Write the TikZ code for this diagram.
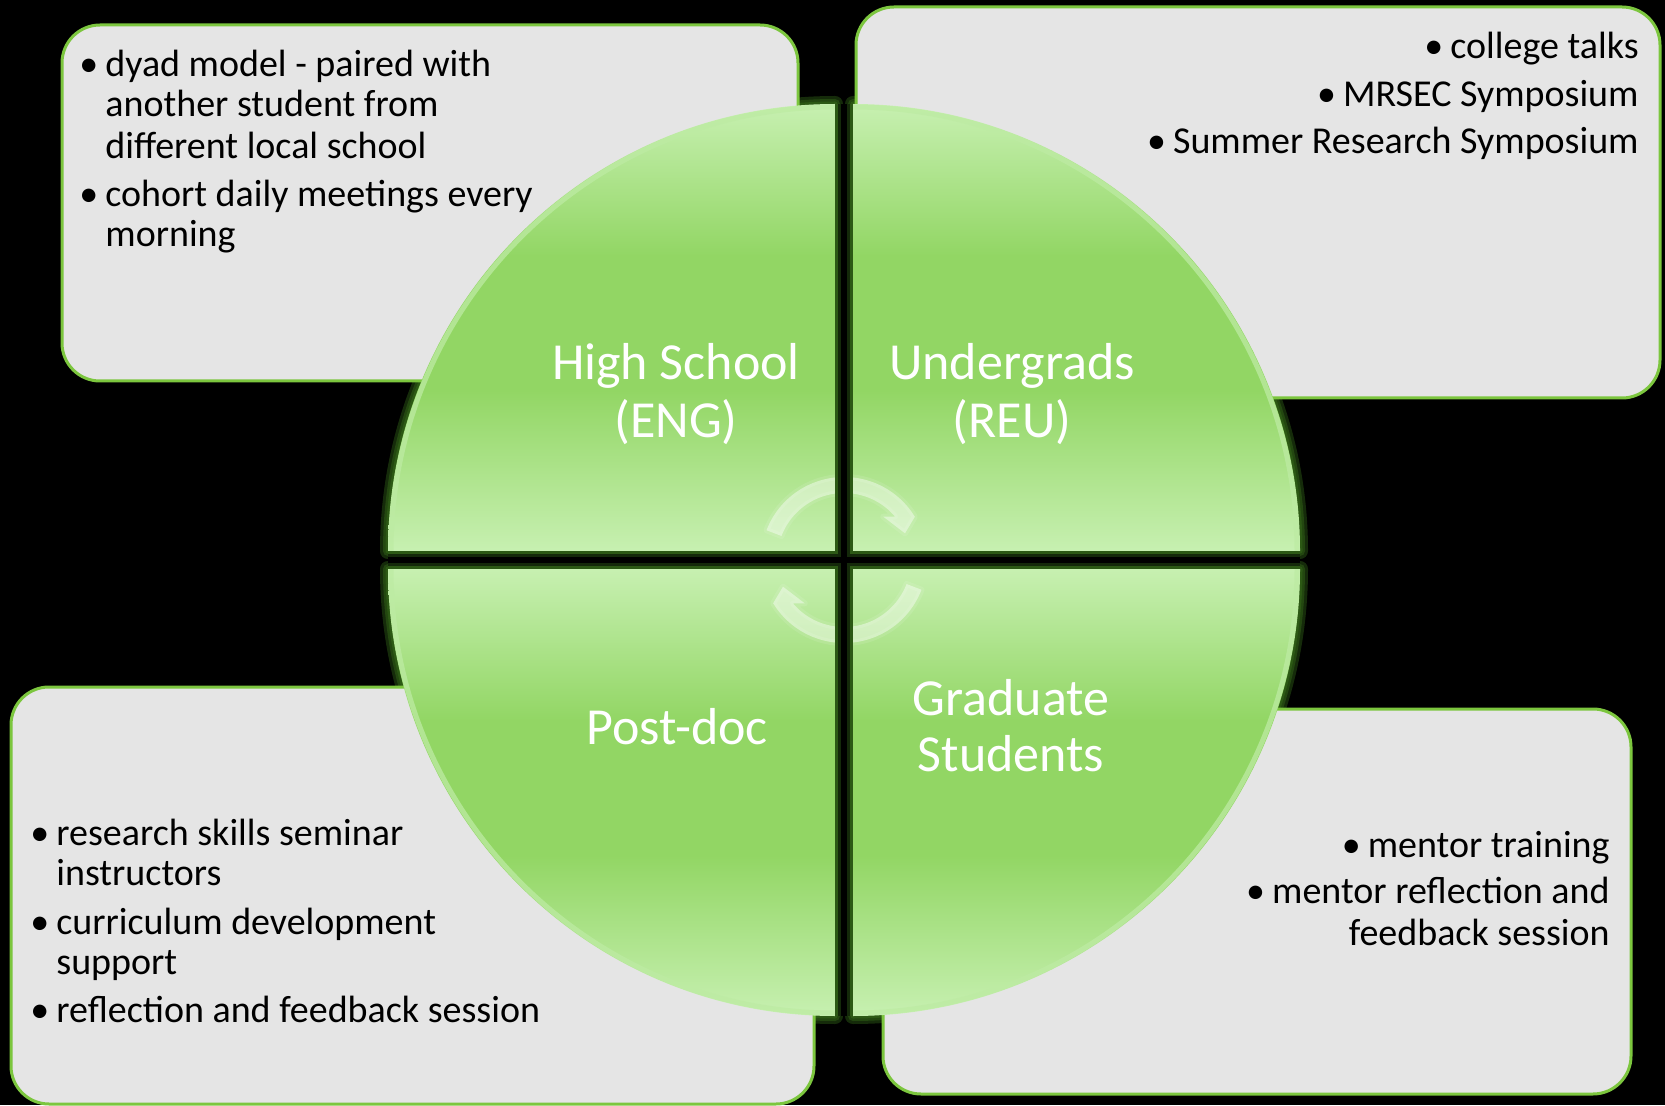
\documentclass[tikz,border=0pt]{standalone}
\usepackage{fontspec}
\setmainfont{Carlito}

\definecolor{boxfill}{HTML}{E5E5E5}
\definecolor{boxline}{HTML}{7CC63E}
\definecolor{qlight}{HTML}{C7F0B1}
\definecolor{qgreen}{HTML}{92D664}
\definecolor{glowgreen}{HTML}{3F7D1E}
\definecolor{gapgreen}{HTML}{2C5915}
\definecolor{gapdark}{HTML}{14290A}
\definecolor{rimgreen}{HTML}{BDEBA3}

% light at both ends, saturated green in the middle
\pgfdeclareverticalshading{quadfade}{100bp}{color(0bp)=(qlight); color(25bp)=(qlight); color(43bp)=(qgreen); color(58bp)=(qgreen); color(75bp)=(qlight); color(100bp)=(qlight)}

\newcommand\blt{\makebox[13pt][l]{\textbullet}}

\begin{document}
\begin{tikzpicture}[x=0.5pt, y=0.5pt,
  infobox/.style={fill=boxfill, draw=boxline, line width=1.5pt, rounded corners=19pt},
  bodytext/.style={inner sep=0pt, font=\fontsize{19pt}{20.5pt}\selectfont, text=black},
  quadlabel/.style={inner sep=0pt, font=\fontsize{26pt}{27.5pt}\selectfont, text=white},
  quadfill/.style={shading=quadfade},
  cyclearrow/.style={fill=white, opacity=0.42}]

\useasboundingbox (0,0) rectangle (1665,1105);
\fill[black] (0,0) rectangle (1665,1105);

% dark glow around the four quarter discs (visible on the black ground only)
\foreach \cx/\cy/\rot in {835/554/0, 853/554/-90, 835/536/90, 853/536/180} {
  \begin{scope}[shift={(\cx,\cy)}, rotate=\rot]
    \foreach \w in {8pt,5pt,2.5pt}
      \draw[glowgreen, opacity=0.35, line width=\w, line join=round]
        (0,0) -- (0,447) arc[start angle=90, end angle=180, radius=447] -- cycle;
  \end{scope}
}

% text boxes behind the circle
\draw[infobox] (62,724) rectangle (798,1080);
\draw[infobox] (856,707) rectangle (1660,1098);
\draw[infobox] (11,1) rectangle (814,418);
\draw[infobox] (883,11) rectangle (1631,396);

% the four quarter discs
\shade[quadfill] (835,554) -- (835,1001) arc[start angle=90, end angle=180, radius=447] -- cycle;
\shade[quadfill] (853,554) -- (1300,554) arc[start angle=0, end angle=90, radius=447] -- cycle;
\shade[quadfill] (835,536) -- (388,536) arc[start angle=180, end angle=270, radius=447] -- cycle;
\shade[quadfill] (853,536) -- (853,89) arc[start angle=270, end angle=360, radius=447] -- cycle;

% light rim along the inside of the curved edges
\foreach \cx/\cy/\rot in {835/554/0, 853/554/-90, 835/536/90, 853/536/180} {
  \begin{scope}[shift={(\cx,\cy)}, rotate=\rot]
    \draw[rimgreen, opacity=0.75, line width=2.5pt] (0,444) arc[start angle=90, end angle=180, radius=444];
  \end{scope}
}

% circular arrows in the middle
\begin{scope}[shift={(844,545)}]
  \foreach \rot in {0,180} {
    \begin{scope}[rotate=\rot]
      \draw[white, opacity=0.1, line width=3pt, line join=round]
        (159:83) arc[start angle=159, end angle=31.4, radius=83] -- (61,26.7) -- (39.3,43.3)
        -- (40.3:67) arc[start angle=40.3, end angle=159, radius=67] -- cycle;
      \fill[cyclearrow]
        (159:83) arc[start angle=159, end angle=31.4, radius=83] -- (61,26.7) -- (39.3,43.3)
        -- (40.3:67) arc[start angle=40.3, end angle=159, radius=67] -- cycle;
    \end{scope}
  }
\end{scope}

% dividing cross between the quarters
\foreach \w/\c in {9pt/gapgreen, 6pt/gapdark, 3pt/black} {
  \draw[\c, line width=\w] (844,89) -- (844,1001);
  \draw[\c, line width=\w] (388,545) -- (1300,545);
}

% quarter labels
\node[quadlabel, anchor=base] (hs1) at (676,725) {High School};
\node[quadlabel, anchor=base] (hs2) at (676,668) {(ENG)};
\node[quadlabel, anchor=base] (ug1) at (1012,725) {Undergrads};
\node[quadlabel, anchor=base] (ug2) at (1012,668) {(REU)};
\node[quadlabel, anchor=base] (pd) at (677,361) {Post-doc};
\node[quadlabel, anchor=base] (gs1) at (1011,390) {Graduate};
\node[quadlabel, anchor=base] (gs2) at (1011,334) {Students};

% top left box
\node[bodytext, anchor=base west] (tl1) at (79,1028) {\blt dyad model - paired with};
\node[bodytext, anchor=base west] (tl2) at (105,988) {another student from};
\node[bodytext, anchor=base west] (tl3) at (105,946) {different local school};
\node[bodytext, anchor=base west] (tl4) at (79,898) {\blt cohort daily meetings every};
\node[bodytext, anchor=base west] (tl5) at (105,858) {morning};

% top right box
\node[bodytext, anchor=base east] (tr1) at (1639,1046) {\blt college talks};
\node[bodytext, anchor=base east] (tr2) at (1639,998) {\blt MRSEC Symposium};
\node[bodytext, anchor=base east] (tr3) at (1639,951) {\blt Summer Research Symposium};

% bottom left box
\node[bodytext, anchor=base west] (bl1) at (30,260) {\blt research skills seminar};
\node[bodytext, anchor=base west] (bl2) at (56,220) {instructors};
\node[bodytext, anchor=base west] (bl3) at (30,171) {\blt curriculum development};
\node[bodytext, anchor=base west] (bl4) at (56,131) {support};
\node[bodytext, anchor=base west] (bl5) at (30,83) {\blt reflection and feedback session};

% bottom right box
\node[bodytext, anchor=base east] (br1) at (1610,248) {\blt mentor training};
\node[bodytext, anchor=base east] (br2) at (1610,202) {\blt mentor reflection and};
\node[bodytext, anchor=base east] (br3) at (1610,160) {feedback session};

\end{tikzpicture}
\end{document}
